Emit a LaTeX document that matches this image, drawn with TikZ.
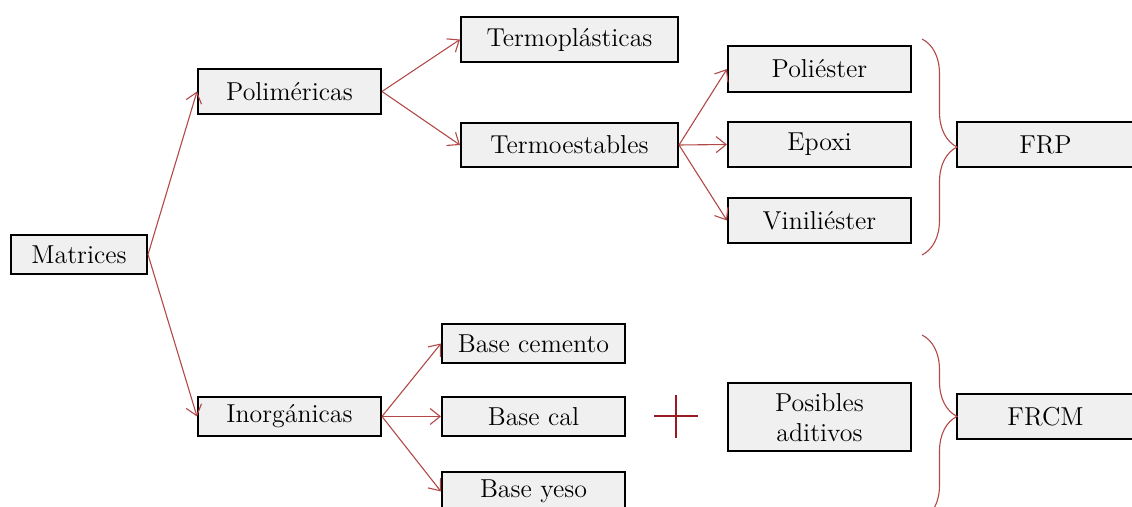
\documentclass[tikz,border=0pt]{standalone}
\usetikzlibrary{arrows.meta,decorations.pathreplacing}
\definecolor{boxfill}{RGB}{240,240,240}
\definecolor{linkred}{RGB}{178,72,72}
\definecolor{plusred}{RGB}{155,25,35}
\begin{document}
\begin{tikzpicture}[x=0.5pt,y=-0.5pt,
  cat/.style={draw=black,line width=1pt,fill=boxfill,rectangle,inner sep=0pt,
    font=\fontsize{12.95}{15}\selectfont,align=center},
  link/.style={draw=linkred,line width=0.55pt,-{Straight Barb[length=5pt,width=8pt]}},
  bracestyle/.style={draw=linkred,line width=0.55pt,decorate,
    decoration={brace,amplitude=17.5pt}}]
\useasboundingbox (0,0) rectangle (1132,507);
% nodes
\node[cat,minimum width=68pt,minimum height=19.5pt] (mat) at (79,254.5) {Matrices};
\node[cat,minimum width=91.5pt,minimum height=22.5pt] (pol) at (289.5,91.5) {Poliméricas};
\node[cat,minimum width=91.5pt,minimum height=19.5pt] (ino) at (289.5,416.5) {Inorgánicas};
\node[cat,minimum width=108.5pt,minimum height=22.5pt] (tpl) at (569.5,39.5) {Termoplásticas};
\node[cat,minimum width=108.5pt,minimum height=22pt] (tes) at (569.5,145) {Termoestables};
\node[cat,minimum width=91.5pt,minimum height=23pt] (pes) at (819.5,69) {Poliéster};
\node[cat,minimum width=91.5pt,minimum height=22.5pt] (epo) at (819.5,144.5) {Epoxi};
\node[cat,minimum width=91.5pt,minimum height=22.5pt] (vin) at (819.5,220.5) {Viniliéster};
\node[cat,minimum width=88.5pt,minimum height=22.5pt] (frp) at (1045.5,144.5) {FRP};
\node[cat,minimum width=91.5pt,minimum height=19.5pt] (bce) at (533.5,343.5) {Base cemento};
\node[cat,minimum width=91.5pt,minimum height=19.5pt] (bca) at (533.5,416.5) {Base cal};
\node[cat,minimum width=91.5pt,minimum height=19.5pt] (bye) at (533.5,491.5) {Base yeso};
\node[cat,minimum width=91.5pt,minimum height=34pt] (adi) at (819.5,417.5) {Posibles\\aditivos};
\node[cat,minimum width=88.5pt,minimum height=22.5pt] (frcm) at (1045.5,416.5) {FRCM};
% connectors
\draw[link] (mat.east) -- (pol.west);
\draw[link] (mat.east) -- (ino.west);
\draw[link] (pol.east) -- (tpl.west);
\draw[link] (pol.east) -- (tes.west);
\draw[link] (tes.east) -- (pes.west);
\draw[link] (tes.east) -- (epo.west);
\draw[link] (tes.east) -- (vin.west);
\draw[link] (ino.east) -- (bce.west);
\draw[link] (ino.east) -- (bca.west);
\draw[link] (ino.east) -- (bye.west);
% braces
\coordinate (b1t) at (922,39);
\coordinate (b1b) at (922,255);
\draw[bracestyle] (b1t) -- (b1b);
\coordinate (b2t) at (922,335);
\coordinate (b2b) at (922,520);
\draw[bracestyle,decoration={brace,amplitude=17.5pt,aspect=0.44}] (b2t) -- (b2b);
% plus sign
\coordinate (plc) at (676,416.5);
\draw[plusred,line width=1pt] ([xshift=-11pt]plc) -- ([xshift=11pt]plc);
\draw[plusred,line width=1pt] ([yshift=10.75pt]plc) -- ([yshift=-10.75pt]plc);
\end{tikzpicture}
\end{document}
